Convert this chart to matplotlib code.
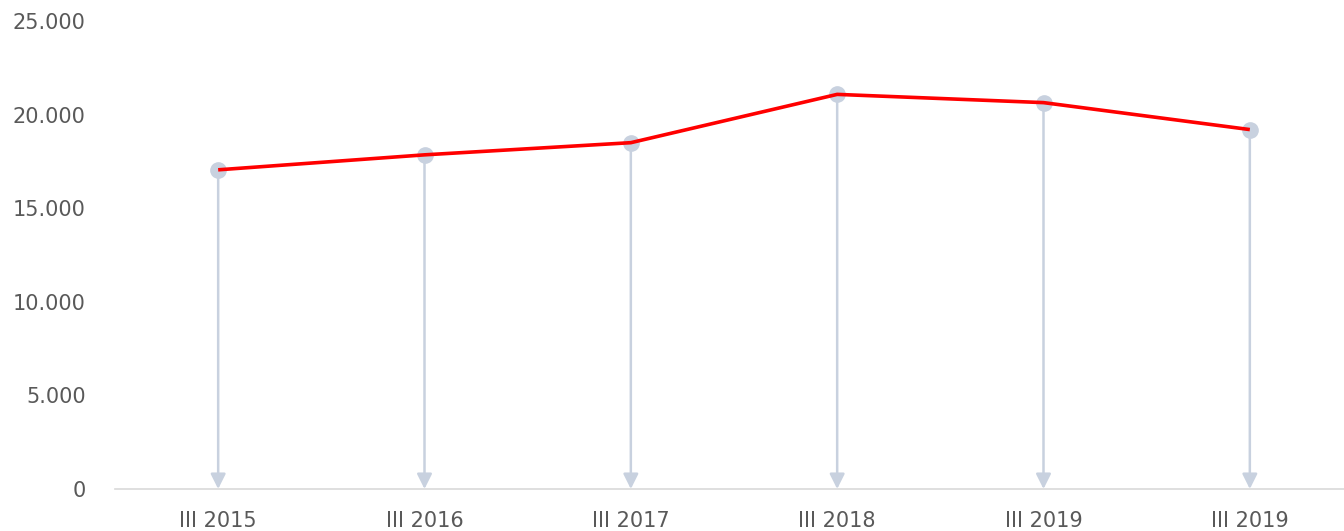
import matplotlib.pyplot as plt
from matplotlib.ticker import FuncFormatter

# data
periods = ['III 2015', 'III 2016', 'III 2017', 'III 2018', 'III 2019', 'III 2019']
values = [17050, 17850, 18500, 21080, 20640, 19200]
y_ticks = [0, 5000, 10000, 15000, 20000, 25000]

stem_col = '#c8d1df'
text_col = '#595959'

fig = plt.figure(figsize=(13.44, 5.31), dpi=100)
ax = fig.add_axes([115/1344, 42/531, 1238/1344, 468/531])

xs = list(range(len(periods)))

# drop lines with arrow heads down to the axis
for x, v in zip(xs, values):
    ax.annotate('', xy=(x, 0), xytext=(x, v),
                arrowprops=dict(arrowstyle='-|>,head_length=0.9,head_width=0.45',
                                color=stem_col, lw=1.8, shrinkA=0, shrinkB=0))

ax.plot(xs, values, 'o', ms=11, color=stem_col, zorder=3)
ax.plot(xs, values, color='#ff0000', lw=2.6, zorder=4, solid_capstyle='butt')

ax.set_xlim(-0.5, len(periods) - 0.5)
ax.set_ylim(0, 25000)
ax.set_xticks(xs)
ax.set_xticklabels(periods)
ax.set_yticks(y_ticks)
ax.yaxis.set_major_formatter(FuncFormatter(lambda v, p: f'{int(v):,}'.replace(',', '.')))

for s in ['top', 'right', 'left']:
    ax.spines[s].set_visible(False)
ax.spines['bottom'].set_color('#d9d9d9')
ax.spines['bottom'].set_linewidth(1.2)
ax.tick_params(axis='both', length=0, labelsize=15, labelcolor=text_col)
ax.tick_params(axis='x', pad=16)
ax.tick_params(axis='y', pad=21)
for lab in ax.get_xticklabels() + ax.get_yticklabels():
    lab.set_family('DejaVu Sans')

fig.savefig('out.png', dpi=100)
